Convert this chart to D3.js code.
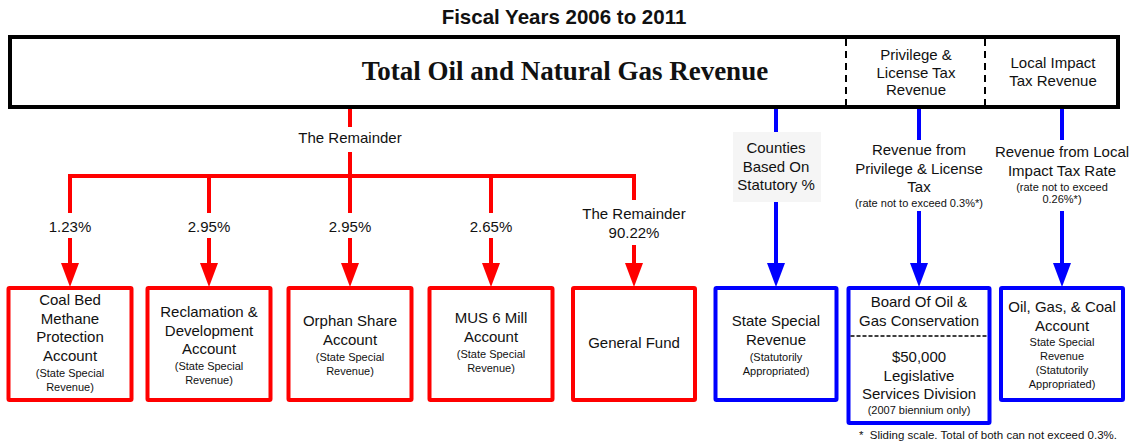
<!DOCTYPE html>
<html>
<head>
<meta charset="utf-8">
<script src="https://cdn.jsdelivr.net/npm/d3@7"></script>
<style>
body { margin: 0; background: #fff; }
text { font-family: "Liberation Sans", Arial, sans-serif; fill: #111; }
</style>
</head>
<body>
<script>
// chart data
const title = "Fiscal Years 2006 to 2011";
const sourceLabel = "Total Oil and Natural Gas Revenue";
const headerLabels = [["Privilege &", "License Tax", "Revenue"], ["Local Impact", "Tax Revenue"]];

// red branch: share of "The Remainder"
const splitLabel = "The Remainder";
const branchPercents = ["1.23%", "2.95%", "2.95%", "2.65%", "90.22%"];
const branchPrefix = ["", "", "", "", "The Remainder"];

// blue flows
const blueLabels = [
    { main: ["Counties", "Based On", "Statutory %"], small: [] },
    { main: ["Revenue from", "Privilege & License", "Tax"], small: ["(rate not to exceed 0.3%*)"] },
    { main: ["Revenue from Local", "Impact Tax Rate"], small: ["(rate not to exceed", "0.26%*)"] }
];

// destination boxes
const boxMain = [
    ["Coal Bed", "Methane", "Protection", "Account"],
    ["Reclamation &", "Development", "Account"],
    ["Orphan Share", "Account"],
    ["MUS 6 Mill", "Account"],
    ["General Fund"],
    ["State Special", "Revenue"],
    ["Board Of Oil &", "Gas Conservation"],
    ["Oil, Gas, & Coal", "Account"]
];
const boxSmall = [
    ["(State Special", "Revenue)"],
    ["(State Special", "Revenue)"],
    ["(State Special", "Revenue)"],
    ["(State Special", "Revenue)"],
    [],
    ["(Statutorily", "Appropriated)"],
    [],
    ["State Special", "Revenue", "(Statutorily", "Appropriated)"]
];
const boardLower = ["$50,000", "Legislative", "Services Division"];
const boardNote = "(2007 biennium only)";
const footnote = "*  Sliding scale. Total of both can not exceed 0.3%.";

const width = 1130, height = 445;
const RED = "#ff0000", BLUE = "#0000ff";
const MAIN = "15px", SMALL = "11px";

const svg = d3.select("body").append("svg")
    .attr("width", width)
    .attr("height", height);

// column positions
const boxW = [123, 123, 123, 123, 122, 121, 141, 122];
const boxCx = [70, 209, 350, 491, 634, 776, 919, 1062];

const topY = 37, topH = 70;
const barY = 176, boxTop = 288, boxH = 112;

// title
svg.append("text")
    .attr("x", width / 2 - 1).attr("y", 24)
    .attr("text-anchor", "middle")
    .style("font-weight", "bold").style("font-size", "20.5px")
    .text(title);

// top box
svg.append("rect")
    .attr("x", 10).attr("y", topY).attr("width", 1108).attr("height", topH)
    .attr("fill", "none").attr("stroke", "#000").attr("stroke-width", 4);

svg.append("text")
    .attr("x", 565).attr("y", 80)
    .attr("text-anchor", "middle")
    .style("font-family", "'Liberation Serif', 'Times New Roman', serif")
    .style("font-weight", "bold").style("font-size", "27px")
    .text(sourceLabel);

[846, 985].forEach(x => {
    svg.append("line")
        .attr("x1", x).attr("x2", x).attr("y1", topY + 2).attr("y2", topY + topH - 2)
        .attr("stroke", "#000").attr("stroke-width", 2).attr("stroke-dasharray", "7,5");
});

const headCx = [916, 1053];
headerLabels.forEach((lines, i) => {
    const y0 = i === 0 ? 60 : 68;
    lines.forEach((t, j) => {
        svg.append("text").attr("x", headCx[i]).attr("y", y0 + j * 17.5)
            .attr("text-anchor", "middle").style("font-size", "15px").text(t);
    });
});

// helper: arrow from y1 down to tip at y2
function arrow(x, y1, y2, color) {
    svg.append("line").attr("x1", x).attr("x2", x).attr("y1", y1).attr("y2", y2 - 20)
        .attr("stroke", color).attr("stroke-width", 4);
    svg.append("path")
        .attr("d", d3.line()([[x - 9, y2 - 24], [x + 9, y2 - 24], [x, y2]]))
        .attr("fill", color);
}
function vline(x, y1, y2, color) {
    svg.append("line").attr("x1", x).attr("x2", x).attr("y1", y1).attr("y2", y2)
        .attr("stroke", color).attr("stroke-width", 4);
}

// red trunk
vline(boxCx[2], topY + topH + 2, 127, RED);
svg.append("text").attr("x", boxCx[2]).attr("y", 143)
    .attr("text-anchor", "middle").style("font-size", MAIN).text(splitLabel);
vline(boxCx[2], 152, barY, RED);
svg.append("line")
    .attr("x1", boxCx[0] - 2).attr("x2", boxCx[4] + 2).attr("y1", barY).attr("y2", barY)
    .attr("stroke", RED).attr("stroke-width", 4);

branchPercents.forEach((p, i) => {
    const x = boxCx[i];
    const last = branchPrefix[i] !== "";
    vline(x, barY - 2, last ? 200 : 213, RED);
    if (last) {
        svg.append("text").attr("x", x).attr("y", 219).attr("text-anchor", "middle")
            .style("font-size", MAIN).text(branchPrefix[i]);
        svg.append("text").attr("x", x).attr("y", 238).attr("text-anchor", "middle")
            .style("font-size", MAIN).text(p);
        arrow(x, 245, boxTop - 1, RED);
    } else {
        svg.append("text").attr("x", x).attr("y", 232).attr("text-anchor", "middle")
            .style("font-size", MAIN).text(p);
        arrow(x, 238, boxTop - 1, RED);
    }
});

// blue flows
// counties label box
svg.append("rect").attr("x", boxCx[5] - 43).attr("y", 132).attr("width", 88).attr("height", 70)
    .attr("fill", "#f5f5f5");
vline(boxCx[5], topY + topH + 2, 132, BLUE);
blueLabels[0].main.forEach((t, j) => {
    svg.append("text").attr("x", boxCx[5]).attr("y", 153 + j * 18.5)
        .attr("text-anchor", "middle").style("font-size", MAIN).text(t);
});
arrow(boxCx[5], 202, boxTop - 1, BLUE);

[1, 2].forEach(k => {
    const x = boxCx[5 + k];
    vline(x, topY + topH + 2, 140, BLUE);
    const y0 = k === 1 ? 155 : 157;
    blueLabels[k].main.forEach((t, j) => {
        svg.append("text").attr("x", x).attr("y", y0 + j * 18.5)
            .attr("text-anchor", "middle").style("font-size", MAIN).text(t);
    });
    const ys = y0 + (blueLabels[k].main.length - 1) * 18.5 + 15;
    blueLabels[k].small.forEach((t, j) => {
        svg.append("text").attr("x", x).attr("y", ys + j * 12.5)
            .attr("text-anchor", "middle").style("font-size", SMALL).text(t);
    });
    arrow(x, 211, boxTop - 1, BLUE);
});

// destination boxes
const mainY0 = [305, 317, 326, 323, 348, 326, 307, 312];
const smallGap = [4, 4, 4, 4, 0, 4, 0, 3];
boxMain.forEach((lines, i) => {
    const x = boxCx[i], w = boxW[i];
    const color = i < 5 ? RED : BLUE;
    const h = i === 6 ? 135 : boxH;
    svg.append("rect")
        .attr("x", x - w / 2).attr("y", boxTop).attr("width", w).attr("height", h)
        .attr("fill", "#fff").attr("stroke", color).attr("stroke-width", 4).attr("rx", 1);
    lines.forEach((t, j) => {
        svg.append("text").attr("x", x).attr("y", mainY0[i] + j * 18.5)
            .attr("text-anchor", "middle").style("font-size", MAIN).text(t);
    });
    const ys = mainY0[i] + (lines.length - 1) * 18.5 + 12 + smallGap[i];
    boxSmall[i].forEach((t, j) => {
        svg.append("text").attr("x", x).attr("y", ys + j * 14)
            .attr("text-anchor", "middle").style("font-size", SMALL).text(t);
    });
});

// board lower section
const bx = boxCx[6], bw = boxW[6];
svg.append("line")
    .attr("x1", bx - bw / 2 + 2).attr("x2", bx + bw / 2 - 2).attr("y1", 336).attr("y2", 336)
    .attr("stroke", "#000").attr("stroke-width", 1.5).attr("stroke-dasharray", "4,2");
boardLower.forEach((t, j) => {
    svg.append("text").attr("x", bx).attr("y", 362 + j * 18.5)
        .attr("text-anchor", "middle").style("font-size", MAIN).text(t);
});
svg.append("text").attr("x", bx).attr("y", 414)
    .attr("text-anchor", "middle").style("font-size", SMALL).text(boardNote);

svg.append("text").attr("x", 1117).attr("y", 439)
    .attr("text-anchor", "end").style("font-size", "11.5px")
    .style("white-space", "pre").text(footnote);
</script>
</body>
</html>
